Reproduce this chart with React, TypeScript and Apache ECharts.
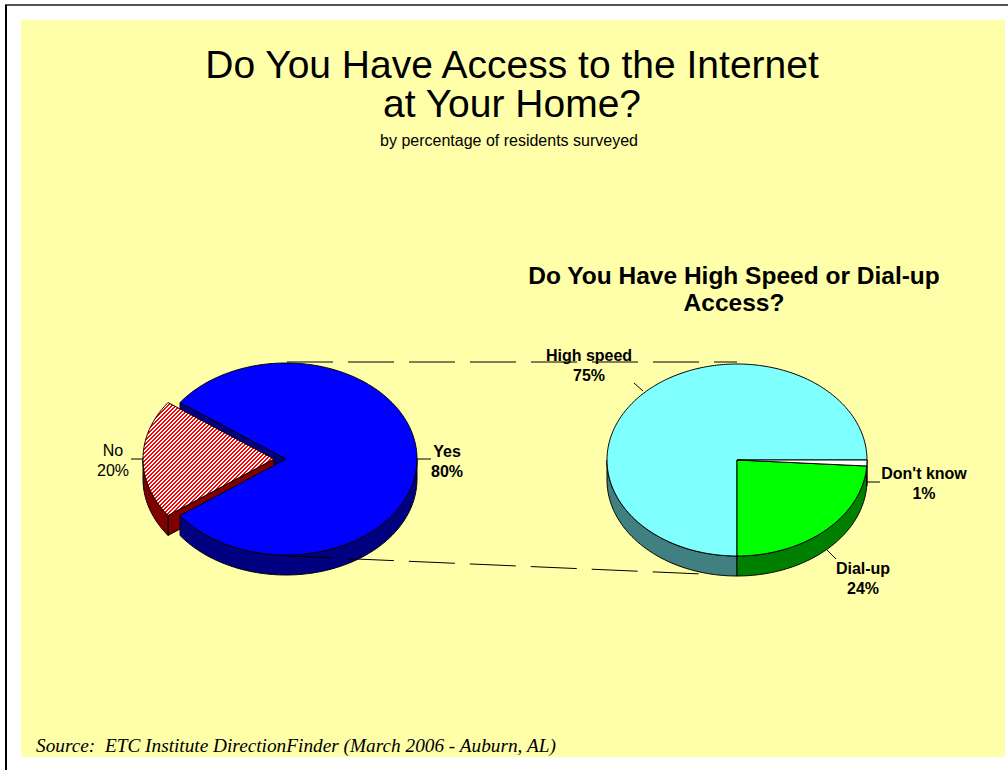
import React, { useEffect, useRef } from "react";
import * as echarts from "echarts";

const mainTitle = ["Do You Have Access to the Internet", "at Your Home?"];
const subTitle = "by percentage of residents surveyed";
const subChartTitle = ["Do You Have High Speed or Dial-up", "Access?"];
const sourceNote = "Source:  ETC Institute DirectionFinder (March 2006 - Auburn, AL)";

const accessCategories = ["Yes", "No"];
const accessValues = [80, 20];

const speedCategories = ["High speed", "Dial-up", "Don't know"];
const speedValues = [75, 24, 1];

const SANS = "'Liberation Sans', Arial, sans-serif";
const SERIF = "'Liberation Serif', 'Times New Roman', serif";

function makeHatch(): HTMLCanvasElement {
  const c = document.createElement("canvas");
  c.width = 4;
  c.height = 4;
  const g = c.getContext("2d")!;
  const img = g.createImageData(4, 4);
  for (let y = 0; y < 4; y++) {
    for (let x = 0; x < 4; x++) {
      const k = (y * 4 + x) * 4;
      const red = (x + y) % 4 < 2;
      img.data[k] = 255;
      img.data[k + 1] = red ? 0 : 255;
      img.data[k + 2] = red ? 0 : 255;
      img.data[k + 3] = 255;
    }
  }
  g.putImageData(img, 0, 0);
  return c;
}

type PieCfg = {
  cx: number;
  cy: number;
  rx: number;
  ry: number;
  depth: number;
  start: number;
  explode: number[];
  top: any[];
  side: string[];
};

function makeRenderItem(values: number[], cfg: PieCfg) {
  const total = values.reduce((s, v) => s + v, 0);
  return (params: any, api: any) => {
    const i = params.dataIndex;
    let before = 0;
    for (let k = 0; k < i; k++) before += values[k];
    const v = api.value(0);
    const a = cfg.start + (before / total) * 360;
    const b = a + (v / total) * 360;
    const mid = (((a + b) / 2) * Math.PI) / 180;
    const e = cfg.explode[i] || 0;
    const ox = cfg.cx + e * Math.cos(mid);
    const oy = cfg.cy - (e * Math.sin(mid) * cfg.ry) / cfg.rx;
    const d = cfg.depth;
    const pt = (deg: number, dz = 0) => {
      const t = (deg * Math.PI) / 180;
      return [ox + cfg.rx * Math.cos(t), oy - cfg.ry * Math.sin(t) + dz];
    };
    const arc = (from: number, to: number, dz = 0) => {
      const n = Math.max(2, Math.ceil(Math.abs(to - from)));
      const pts: number[][] = [];
      for (let s = 0; s <= n; s++) pts.push(pt(from + ((to - from) * s) / n, dz));
      return pts;
    };
    const line = { stroke: "#000", lineWidth: 1, lineJoin: "round" };
    const children: any[] = [];
    const c = [ox, oy];
    const n = values.length;
    const anyExplode = cfg.explode.some((x) => x > 0);
    if (anyExplode) {
      const prev = (i - 1 + n) % n;
      const next = (i + 1) % n;
      const startGap = e > 0 || (cfg.explode[prev] || 0) > 0;
      const endGap = e > 0 || (cfg.explode[next] || 0) > 0;
      if (startGap && Math.cos((a * Math.PI) / 180) > 0) {
        const r = pt(a);
        children.push({
          type: "polygon",
          z2: 1,
          shape: { points: [c, r, [r[0], r[1] + d], [c[0], c[1] + d]] },
          style: { fill: cfg.side[i], ...line },
        });
      }
      if (endGap && Math.cos((b * Math.PI) / 180) < 0) {
        const r = pt(b);
        children.push({
          type: "polygon",
          z2: 1,
          shape: { points: [c, r, [r[0], r[1] + d], [c[0], c[1] + d]] },
          style: { fill: cfg.side[i], ...line },
        });
      }
    }
    for (let k = -1; k <= 2; k++) {
      const lo = 180 + 360 * k;
      const hi = 360 + 360 * k;
      const s = Math.max(a, lo);
      const t = Math.min(b, hi);
      if (t > s) {
        children.push({
          type: "polygon",
          z2: 2,
          shape: { points: [...arc(s, t), ...arc(t, s, d)] },
          style: { fill: cfg.side[i], ...line },
        });
      }
    }
    children.push({
      type: "polygon",
      z2: 3,
      shape: { points: [c, ...arc(a, b)] },
      style: { fill: cfg.top[i], ...line },
    });
    return { type: "group", children };
  };
}

export default function App() {
  const ref = useRef<HTMLDivElement>(null);
  useEffect(() => {
    document.body.style.margin = "0";
    const chart = echarts.init(ref.current!, null, { renderer: "svg" });
    const hatch = makeHatch();
    const hatchFill = { image: hatch, repeat: "repeat", imageWidth: 4, imageHeight: 4 };

    const leftPie: PieCfg = {
      cx: 286,
      cy: 459,
      rx: 131,
      ry: 96,
      depth: 20,
      start: 216,
      explode: [0, 12],
      top: ["#0000FF", hatchFill],
      side: ["#000080", "#800000"],
    };
    const rightPie: PieCfg = {
      cx: 737,
      cy: 460,
      rx: 130,
      ry: 96,
      depth: 20,
      start: 0,
      explode: [0, 0, 0],
      top: ["#80FFFF", "#00FF00", "#FFFFFF"],
      side: ["#408080", "#008000", "#808080"],
    };

    const label = (text: string, x: number, y: number, bold: boolean) => ({
      type: "text",
      z: 10,
      x,
      y,
      style: {
        text,
        fill: "#000",
        font: `${bold ? "bold " : ""}16px ${SANS}`,
        align: "center",
        verticalAlign: "middle",
        lineHeight: 20,
      },
    });
    const seg = (x1: number, y1: number, x2: number, y2: number, z = 10, dash?: number[]) => ({
      type: "line",
      z,
      shape: { x1, y1, x2, y2 },
      style: { stroke: "#000", lineWidth: 1, lineDash: dash },
    });

    const pct = (v: number) => `${v}%`;

    chart.setOption({
      animation: false,
      graphic: [
        { type: "rect", z: 0, shape: { x: 21, y: 20, width: 984, height: 737 }, style: { fill: "#FFFFAA" } },
        { type: "line", z: 0, shape: { x1: 5, y1: 5, x2: 1008, y2: 5 }, style: { stroke: "#555", lineWidth: 2 } },
        { type: "line", z: 0, shape: { x1: 6, y1: 5, x2: 6, y2: 770 }, style: { stroke: "#000", lineWidth: 2 } },
        {
          type: "text", z: 10, x: 512, y: 84,
          style: {
            text: mainTitle.join("\n"),
            fill: "#000",
            font: `39px ${SANS}`,
            align: "center",
            verticalAlign: "middle",
            lineHeight: 39,
          },
        },
        {
          type: "text", z: 10, x: 509, y: 140,
          style: { text: subTitle, fill: "#000", font: `16px ${SANS}`, align: "center", verticalAlign: "middle" },
        },
        {
          type: "text", z: 10, x: 734, y: 289,
          style: {
            text: subChartTitle.join("\n"),
            fill: "#000",
            font: `bold 24.5px ${SANS}`,
            align: "center",
            verticalAlign: "middle",
            lineHeight: 27,
          },
        },
        {
          type: "text", z: 10, x: 36, y: 745,
          style: { text: sourceNote, fill: "#000", font: `italic 19.3px ${SERIF}`, align: "left", verticalAlign: "middle" },
        },
        seg(287, 362, 737, 362, 1, [46, 15]),
        seg(287, 556, 702, 574, 10, [46, 15]),
        label(`${accessCategories[1]}\n${pct(accessValues[1])}`, 113, 460, false),
        label(`${accessCategories[0]}\n${pct(accessValues[0])}`, 447, 461, true),
        label(`${speedCategories[0]}\n${pct(speedValues[0])}`, 589, 365, true),
        label(`${speedCategories[2]}\n${pct(speedValues[2])}`, 924, 483, true),
        label(`${speedCategories[1]}\n${pct(speedValues[1])}`, 863, 578, true),
        seg(131, 459, 143, 459),
        seg(417, 459, 431, 459),
        seg(634, 383, 643, 391),
        seg(867, 482, 880, 482),
        seg(827, 550, 836, 559),
      ],
      series: [
        {
          type: "custom",
          name: "Internet access",
          coordinateSystem: "none",
          z: 2,
          renderItem: makeRenderItem(accessValues, leftPie),
          data: accessValues.map((v, i) => ({ name: accessCategories[i], value: [v] })),
        },
        {
          type: "custom",
          name: "Access type",
          coordinateSystem: "none",
          z: 2,
          renderItem: makeRenderItem(speedValues, rightPie),
          data: speedValues.map((v, i) => ({ name: speedCategories[i], value: [v] })),
        },
      ],
    });
    return () => chart.dispose();
  }, []);
  return (
    <div
      ref={ref}
      style={{ position: "fixed", left: 0, top: 0, width: 1008, height: 770, background: "#fff" }}
    />
  );
}
